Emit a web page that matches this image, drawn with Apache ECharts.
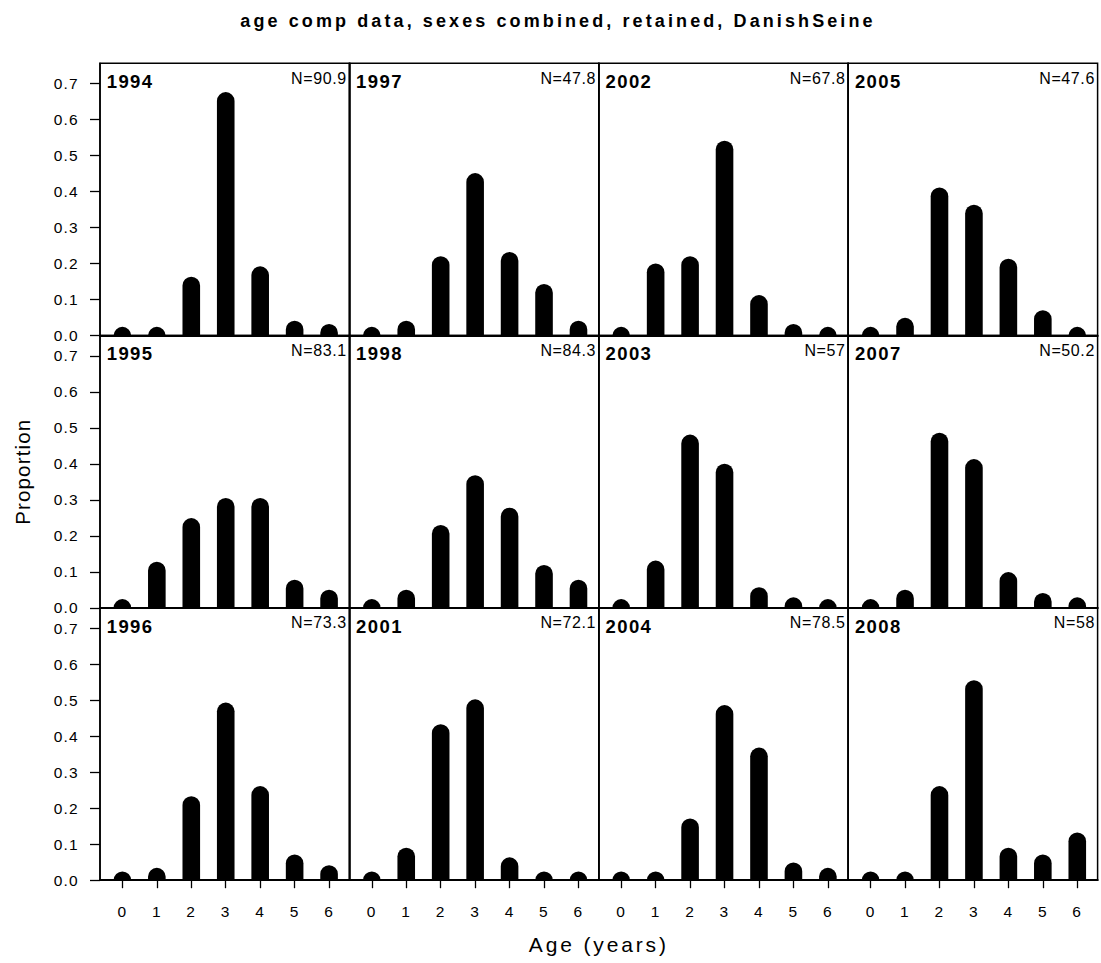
<!DOCTYPE html>
<html>
<head>
<meta charset="utf-8">
<script src="https://cdn.jsdelivr.net/npm/echarts@6/dist/echarts.min.js"></script>
<style>
  html, body { margin: 0; padding: 0; background: #fff; }
  #chart { width: 1101px; height: 963px; }
  #chart text[style*="18px"] { letter-spacing: 3.1px; }
  #chart text[style*="21px"] { letter-spacing: 2.85px; }
  #chart text[style*="20.5px"] { letter-spacing: 1.15px; }
  #chart text[style*="15.5px"] { letter-spacing: 1.25px; }
  #chart text[style*="18.5px"] { letter-spacing: 1.4px; }
  #chart text[style*="16px"] { letter-spacing: 0.6px; }
</style>
</head>
<body>
<div id="chart"></div>
<script>
// ---------- data ----------
const titleText = 'age comp data, sexes combined, retained, DanishSeine';
const xAxisTitle = 'Age (years)';
const yAxisTitle = 'Proportion';
const ages = [0, 1, 2, 3, 4, 5, 6];
const yTickValues = [0, 0.1, 0.2, 0.3, 0.4, 0.5, 0.6, 0.7];

// panels, filled down the columns (3 rows per column)
const years   = [1994, 1995, 1996, 1997, 1998, 2001, 2002, 2003, 2004, 2005, 2007, 2008];
const sampleN = [90.9, 83.1, 73.3, 47.8, 84.3, 72.1, 67.8, 57, 78.5, 47.6, 50.2, 58];

const p1994 = [0, 0, 0.139, 0.652, 0.168, 0.017, 0.008];
const p1995 = [0, 0.104, 0.225, 0.281, 0.281, 0.054, 0.026];
const p1996 = [0, 0.010, 0.209, 0.469, 0.237, 0.047, 0.017];
const p1997 = [0, 0.017, 0.196, 0.427, 0.208, 0.119, 0.017];
const p1998 = [0, 0.026, 0.206, 0.344, 0.254, 0.095, 0.054];
const p2001 = [0, 0.066, 0.409, 0.478, 0.039, 0, 0];
const p2002 = [0, 0.176, 0.196, 0.517, 0.088, 0.008, 0];
const p2003 = [0, 0.107, 0.457, 0.376, 0.033, 0.005, 0];
const p2004 = [0, 0, 0.147, 0.462, 0.344, 0.025, 0.010];
const p2005 = [0, 0.025, 0.387, 0.339, 0.189, 0.046, 0];
const p2007 = [0, 0.026, 0.462, 0.389, 0.075, 0.017, 0.005];
const p2008 = [0, 0, 0.237, 0.531, 0.066, 0.047, 0.108];
const proportions = [p1994, p1995, p1996, p1997, p1998, p2001, p2002, p2003, p2004, p2005, p2007, p2008];

// ---------- layout ----------
const FONT = '"Liberation Sans", Arial, sans-serif';
const NROWS = 3;
const GL = 100, GT = 63.3, GW = 249.4, GH = 272.3;
const X_MIN = -0.65, X_MAX = 6.59, Y_MAX = 0.7564;
const BAR_W = 17.6;

const chart = echarts.init(document.getElementById('chart'), null, { renderer: 'svg', width: 1101, height: 963 });

const grids = [], xAxes = [], yAxes = [], series = [], graphics = [];

years.forEach((yr, i) => {
  const col = Math.floor(i / NROWS), row = i % NROWS;
  const left = GL + col * GW, top = GT + row * GH;
  grids.push({ left: left, top: top, width: GW, height: GH, show: true,
    borderColor: '#000', borderWidth: 1.5, backgroundColor: 'transparent', containLabel: false });

  const bottom = row === NROWS - 1;
  xAxes.push({
    type: 'value', gridIndex: i, min: X_MIN, max: X_MAX,
    axisLine: { show: true, onZero: false, lineStyle: { color: '#000', width: 2 } },
    axisTick: { show: bottom, inside: false, length: 8, customValues: ages, lineStyle: { color: '#000', width: 1.3 } },
    axisLabel: { show: bottom, customValues: ages, margin: 23, fontSize: 15.5, fontFamily: FONT, color: '#000' },
    splitLine: { show: false }
  });

  const first = col === 0;
  const yAxis = {
    type: 'value', gridIndex: i, min: 0, max: Y_MAX, interval: 0.1,
    axisLine: { show: true, onZero: false, lineStyle: { color: '#000', width: 1.5 } },
    axisTick: { show: first, inside: false, length: 10, customValues: yTickValues, lineStyle: { color: '#000', width: 1.3 } },
    axisLabel: { show: first, customValues: yTickValues, formatter: v => v.toFixed(1), margin: 21,
      fontSize: 15.5, fontFamily: FONT, color: '#000', padding: [6, 0, 0, 0] },
    splitLine: { show: false }
  };
  if (first && row === 1) {
    yAxis.name = yAxisTitle;
    yAxis.nameLocation = 'middle';
    yAxis.nameGap = 67;
    yAxis.nameTextStyle = { fontSize: 20.5, fontFamily: FONT, color: '#000' };
  }
  yAxes.push(yAxis);

  series.push({
    type: 'custom', name: String(yr), xAxisIndex: i, yAxisIndex: i,
    data: ages.map((a, k) => [a, proportions[i][k]]),
    encode: { x: 0, y: 1 },
    silent: true,
    renderItem: function (params, api) {
      const base = api.coord([api.value(0), 0]);
      const tip = api.coord([api.value(0), api.value(1)]);
      const r = BAR_W / 2;
      const y0 = tip[1] - r;
      return {
        type: 'rect',
        shape: { x: base[0] - r, y: y0, width: BAR_W, height: base[1] - y0, r: [r, r, 0, 0] },
        style: { fill: '#000' }
      };
    }
  });

  graphics.push({
    type: 'text', x: left + 6.7, y: top + 18.1, silent: true,
    style: { text: String(yr), font: 'bold 18.5px ' + FONT, fill: '#000', textAlign: 'left', textVerticalAlign: 'middle' }
  });
  graphics.push({
    type: 'text', x: left + GW - 2.7, y: top + 14.8, silent: true,
    style: { text: 'N=' + sampleN[i], font: '16px ' + FONT, fill: '#000', textAlign: 'right', textVerticalAlign: 'middle' }
  });
});

graphics.push({
  type: 'text', x: GL + 2 * GW, y: 944.5, silent: true,
  style: { text: xAxisTitle, font: '21px ' + FONT, fill: '#000', textAlign: 'center', textVerticalAlign: 'middle' }
});

chart.setOption({
  animation: false,
  backgroundColor: '#fff',
  title: {
    text: titleText, left: 558, textAlign: 'center', top: 12, padding: 0,
    textStyle: { fontSize: 18, fontWeight: 'bold', fontFamily: FONT, color: '#000', lineHeight: 18 }
  },
  grid: grids,
  xAxis: xAxes,
  yAxis: yAxes,
  series: series,
  graphic: graphics
});
</script>
</body>
</html>
